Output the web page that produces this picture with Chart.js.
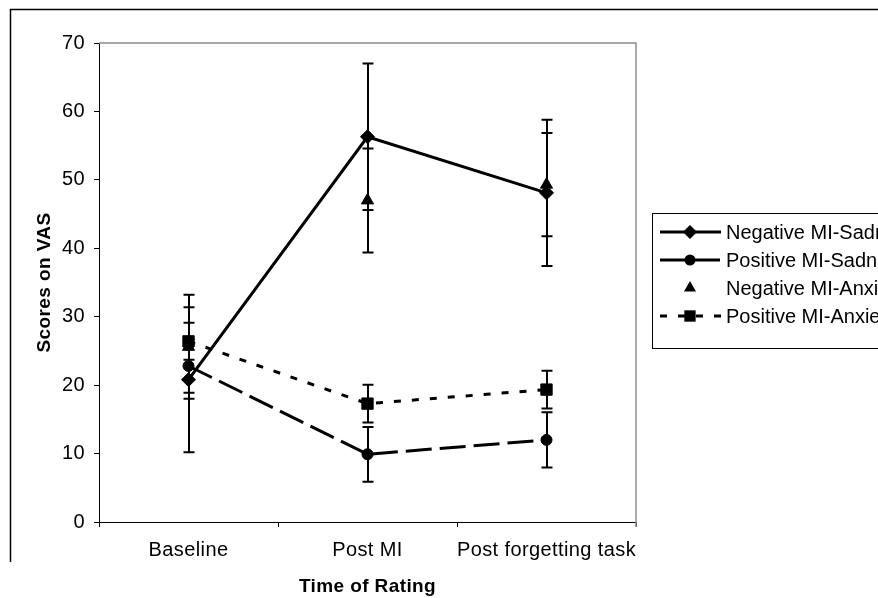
<!DOCTYPE html>
<html>
<head>
<meta charset="utf-8">
<script src="https://cdn.jsdelivr.net/npm/chart.js@4.4.0/dist/chart.umd.min.js"></script>
<style>
html,body{margin:0;padding:0;background:#fff;overflow:hidden;}
#wrap{position:relative;width:878px;height:598px;}
</style>
</head>
<body>
<div id="wrap"><canvas id="c" width="878" height="598"></canvas></div>
<script>
// ---- Data ----
const categories = ['Baseline', 'Post MI', 'Post forgetting task'];
const yTicks = [0, 10, 20, 30, 40, 50, 60, 70];

const negSadness = [20.8, 56.3, 48.1];
const negSadnessErr = [10.6, 10.7, 10.7];

const posSadness = [22.8, 9.9, 12.0];
const posSadnessErr = [3.9, 4.0, 4.05];

const negAnxiety = [25.6, 47.0, 49.3];
const negAnxietyErr = [7.6, 7.6, 7.55];

const posAnxiety = [26.4, 17.3, 19.35];
const posAnxietyErr = [2.7, 2.75, 2.75];

const seriesNames = ['Negative MI-Sadness', 'Positive MI-Sadness', 'Negative MI-Anxiety', 'Positive MI-Anxiety'];

const FONT = "'Liberation Sans', Arial, sans-serif";

const errorArrays = [negSadnessErr, posSadnessErr, negAnxietyErr, posAnxietyErr];

// ---- Plugins ----
const framePlugin = {
  id: 'frame',
  beforeDraw(chart) {
    const ctx = chart.ctx;
    ctx.letterSpacing = '0.4px';
    ctx.save();
    ctx.strokeStyle = '#000';
    ctx.lineWidth = 1.5;
    ctx.beginPath();
    ctx.moveTo(10.5, 562);
    ctx.lineTo(10.5, 9.5);
    ctx.lineTo(878, 9.5);
    ctx.stroke();
    ctx.restore();
  },
  afterDraw(chart) {
    const ctx = chart.ctx;
    const a = chart.chartArea;
    ctx.save();
    ctx.strokeStyle = '#8c8c8c';
    ctx.lineWidth = 1.5;
    ctx.beginPath();
    ctx.moveTo(a.left, a.top);
    ctx.lineTo(a.right, a.top);
    ctx.lineTo(a.right, a.bottom + 5);
    ctx.stroke();
    ctx.restore();
  }
};

const errorBarPlugin = {
  id: 'errorBars',
  beforeDatasetsDraw(chart) {
    const ctx = chart.ctx;
    const ys = chart.scales.y;
    ctx.save();
    ctx.strokeStyle = '#000';
    ctx.lineWidth = 2;
    chart.data.datasets.forEach((ds, i) => {
      const meta = chart.getDatasetMeta(i);
      const errs = errorArrays[i];
      meta.data.forEach((pt, j) => {
        const v = ds.data[j];
        const e = errs[j];
        const x = Math.round(pt.x);
        const yTop = ys.getPixelForValue(v + e);
        const yBot = ys.getPixelForValue(v - e);
        ctx.beginPath();
        ctx.moveTo(x, yTop);
        ctx.lineTo(x, yBot);
        ctx.moveTo(x - 5.5, yTop);
        ctx.lineTo(x + 5.5, yTop);
        ctx.moveTo(x - 5.5, yBot);
        ctx.lineTo(x + 5.5, yBot);
        ctx.stroke();
      });
    });
    ctx.restore();
  }
};

function drawMarker(ctx, style, r, x, y) {
  ctx.beginPath();
  if (style === 'rectRot') {
    ctx.moveTo(x, y - r); ctx.lineTo(x + r, y); ctx.lineTo(x, y + r); ctx.lineTo(x - r, y);
  } else if (style === 'circle') {
    ctx.arc(x, y, r, 0, Math.PI * 2);
  } else if (style === 'triangle') {
    const w = r * Math.sqrt(3) / 2;
    ctx.moveTo(x, y - r); ctx.lineTo(x + w, y + r / 2); ctx.lineTo(x - w, y + r / 2);
  } else if (style === 'rect') {
    const s = r * Math.SQRT1_2;
    ctx.rect(x - s, y - s, 2 * s, 2 * s);
  }
  ctx.closePath();
  ctx.fill();
}

const legendPlugin = {
  id: 'customLegend',
  afterDraw(chart) {
    const ctx = chart.ctx;
    const bx = 652.5, by = 213.5, bw = 400, bh = 135;
    ctx.save();
    ctx.letterSpacing = '0px';
    ctx.fillStyle = '#fff';
    ctx.fillRect(bx, by, bw, bh);
    ctx.strokeStyle = '#000';
    ctx.lineWidth = 1;
    ctx.strokeRect(bx, by, bw, bh);
    const rows = [232, 260, 288, 316];
    chart.data.datasets.forEach((ds, i) => {
      const y = rows[i];
      if (ds.showLine !== false) {
        ctx.save();
        ctx.strokeStyle = '#000';
        ctx.lineWidth = ds.borderWidth;
        ctx.setLineDash(ds.borderDash || []);
        ctx.beginPath();
        ctx.moveTo(660, y);
        ctx.lineTo(721, y);
        ctx.stroke();
        ctx.restore();
      }
      ctx.fillStyle = '#000';
      drawMarker(ctx, ds.pointStyle, ds.pointRadius, 690, y);
      ctx.fillStyle = '#000';
      ctx.font = '20px ' + FONT;
      ctx.textBaseline = 'middle';
      ctx.textAlign = 'left';
      ctx.fillText(ds.label, 726, y + 1);
    });
    ctx.restore();
  }
};

// ---- Chart ----
new Chart(document.getElementById('c'), {
  type: 'line',
  data: {
    labels: categories,
    datasets: [
      {
        label: seriesNames[0], data: negSadness,
        borderColor: '#000', backgroundColor: '#000', borderWidth: 3,
        pointStyle: 'rectRot', pointRadius: 7, pointBackgroundColor: '#000', pointBorderColor: '#000', pointBorderWidth: 1,
        tension: 0, fill: false
      },
      {
        label: seriesNames[1], data: posSadness,
        borderColor: '#000', backgroundColor: '#000', borderWidth: 3, borderDash: [26, 8],
        pointStyle: 'circle', pointRadius: 5.5, pointBackgroundColor: '#000', pointBorderColor: '#000', pointBorderWidth: 1,
        tension: 0, fill: false
      },
      {
        label: seriesNames[2], data: negAnxiety, showLine: false,
        borderColor: '#000', backgroundColor: '#000', borderWidth: 0,
        pointStyle: 'triangle', pointRadius: 7, pointBackgroundColor: '#000', pointBorderColor: '#000', pointBorderWidth: 1,
        tension: 0, fill: false
      },
      {
        label: seriesNames[3], data: posAnxiety,
        borderColor: '#000', backgroundColor: '#000', borderWidth: 3, borderDash: [7, 11],
        pointStyle: 'rect', pointRadius: 8, pointBackgroundColor: '#000', pointBorderColor: '#000', pointBorderWidth: 1,
        tension: 0, fill: false
      }
    ]
  },
  options: {
    responsive: false,
    animation: false,
    devicePixelRatio: 1,
    layout: { padding: { left: 33, top: 43, right: 242, bottom: 0 } },
    plugins: { legend: { display: false }, tooltip: { enabled: false } },
    scales: {
      x: {
        type: 'category',
        offset: true,
        grid: { offset: true, drawOnChartArea: false, drawTicks: true, tickLength: 5, color: '#000', lineWidth: 1 },
        border: { display: true, color: '#000', width: 1 },
        ticks: { color: '#000', font: { family: FONT, size: 20 }, padding: 11, maxRotation: 0, autoSkip: false },
        title: { display: true, text: 'Time of Rating', color: '#000', font: { family: FONT, size: 19, weight: 'bold' }, padding: 0 },
        afterFit(s) { s.height = 76; }
      },
      y: {
        min: yTicks[0], max: yTicks[yTicks.length - 1],
        afterBuildTicks(s) { s.ticks = yTicks.map(v => ({ value: v })); },
        grid: { drawOnChartArea: false, drawTicks: true, tickLength: 5, color: '#000', lineWidth: 1 },
        border: { display: true, color: '#000', width: 1 },
        ticks: { color: '#000', font: { family: FONT, size: 20 }, padding: 9 },
        title: { display: true, text: 'Scores on VAS', color: '#000', font: { family: FONT, size: 19, weight: 'bold' }, padding: 0 },
        afterFit(s) { s.width = 66; }
      }
    }
  },
  plugins: [framePlugin, errorBarPlugin, legendPlugin]
});
</script>
</body>
</html>
